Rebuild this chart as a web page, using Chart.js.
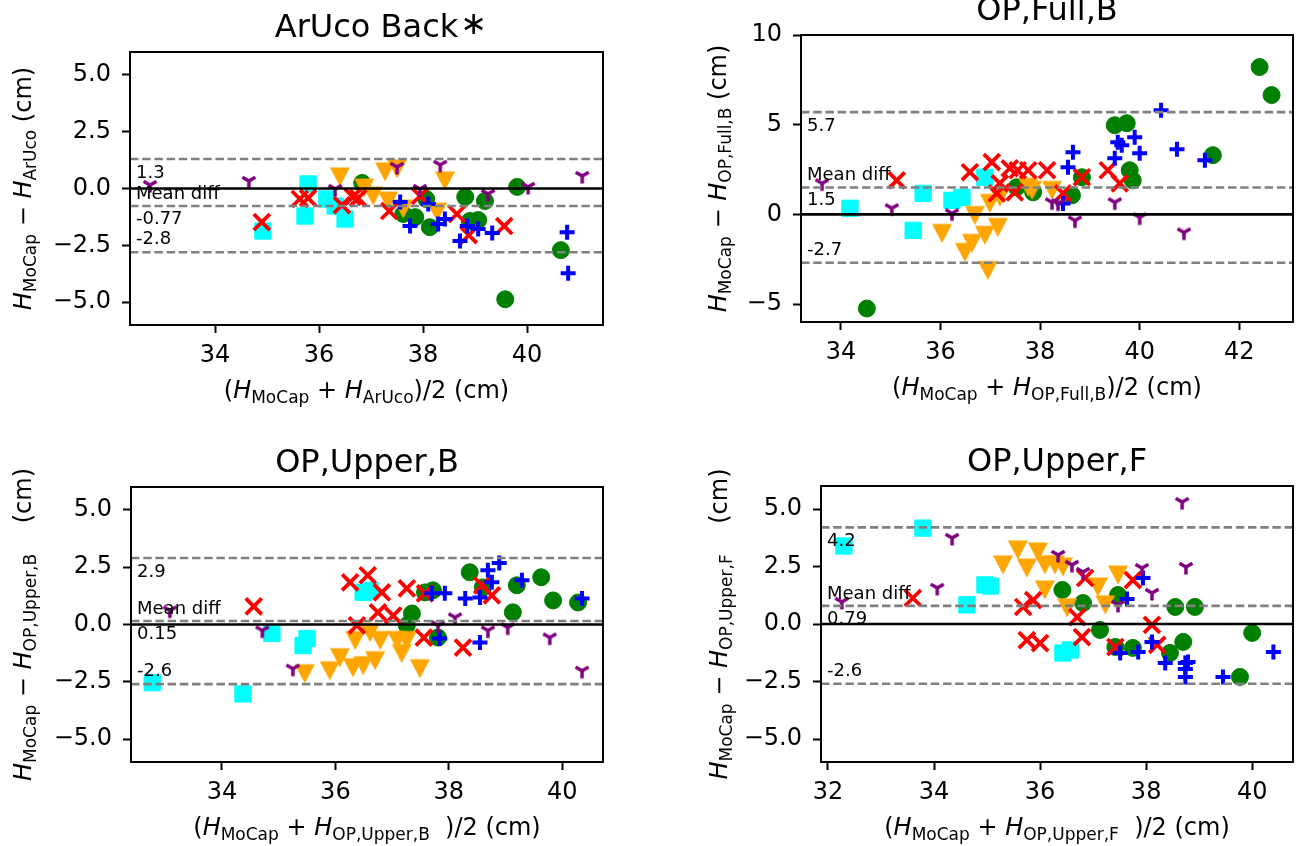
<!DOCTYPE html>
<html>
<head>
<meta charset="utf-8">
<script src="https://cdn.jsdelivr.net/npm/chart.js@4.4.1/dist/chart.umd.min.js"></script>
<style>
  html, body { margin: 0; padding: 0; background: #fff; }
  #wrap { position: relative; width: 1296px; height: 846px; overflow: hidden; }
  #wrap canvas { position: absolute; }
</style>
</head>
<body>
<div id="wrap">
  <canvas id="c1" width="648" height="423" style="left:0;top:0;width:648px;height:423px"></canvas>
  <canvas id="c2" width="690" height="423" style="left:648px;top:0;width:690px;height:423px"></canvas>
  <canvas id="c3" width="648" height="423" style="left:0;top:423px;width:648px;height:423px"></canvas>
  <canvas id="c4" width="690" height="423" style="left:648px;top:423px;width:690px;height:423px"></canvas>
</div>
<script>
// Datos: [media, diferencia] por participante (color)

// ArUco Back*
const arucoPurple = [[32.75,0.15],[34.65,0.33],[36.31,-0.02],[37.50,0.95],[38.33,1.04],[37.94,-0.02],[39.25,-0.24],[40.02,0.07],[41.06,0.55]];
const arucoBlue = [[37.56,-0.59],[37.75,-1.65],[38.10,-0.68],[38.29,-1.56],[38.42,-1.34],[38.71,-2.31],[38.85,-1.65],[39.06,-1.78],[39.33,-1.96],[40.77,-1.92],[40.79,-3.72]];
const arucoRed = [[34.90,-1.48],[35.63,-0.46],[35.79,-0.42],[36.44,-0.73],[36.65,-0.37],[36.75,-0.42],[37.35,-0.99],[37.94,-0.33],[38.65,-1.12],[38.88,-2.05],[39.56,-1.65]];
const arucoOrange = [[36.40,0.51],[36.87,0.02],[37.27,0.73],[37.04,-0.33],[37.33,-0.55],[37.62,-0.90],[37.50,0.86],[38.27,-1.04],[38.42,0.33]];
const arucoGreen = [[36.83,0.24],[38.06,-0.46],[37.62,-1.12],[37.85,-1.26],[38.13,-1.70],[38.81,-0.37],[39.19,-0.55],[38.90,-1.43],[39.06,-1.39],[39.81,0.07],[40.65,-2.71],[39.58,-4.87]];
const arucoCyan = [[34.92,-1.87],[35.73,-1.21],[35.79,0.20],[36.15,-0.46],[36.31,-0.77],[36.50,-1.34]];

// OP,Full,B
const fullPurple = [[33.62,1.73],[35.02,0.34],[36.23,0.06],[38.24,0.67],[38.36,0.61],[38.70,-0.34],[39.50,0.67],[40.00,-0.17],[40.89,-1.01]];
const fullBlue = [[38.46,0.61],[38.56,2.63],[38.66,3.46],[39.50,3.13],[39.56,4.02],[39.64,3.85],[39.90,4.30],[40.00,3.41],[40.43,5.81],[40.75,3.63],[41.31,3.02]];
const fullRed = [[35.12,1.90],[36.59,2.35],[37.03,2.91],[37.19,1.73],[37.13,1.17],[37.39,2.57],[37.55,2.46],[37.49,1.23],[37.76,2.46],[38.14,2.46],[38.46,1.17],[38.84,2.07],[39.36,2.46],[39.60,1.73]];
const fullOrange = [[36.03,-1.06],[36.69,-0.06],[36.49,-2.12],[36.63,-1.62],[36.89,-1.17],[36.95,-3.13],[37.15,-0.73],[36.99,0.61],[37.19,0.95],[37.76,1.51],[37.84,1.34],[38.24,1.34]];
const fullGreen = [[34.52,-5.25],[37.53,1.51],[37.86,1.23],[38.64,1.06],[38.84,2.07],[39.50,4.97],[39.74,5.08],[39.80,2.46],[39.86,1.90],[41.47,3.30],[42.41,8.21],[42.65,6.65]];
const fullCyan = [[34.18,0.34],[35.45,-0.89],[35.65,1.17],[36.23,0.78],[36.43,0.95],[36.89,2.07]];

// OP,Upper,B
const upBPurple = [[33.08,0.61],[34.71,-0.26],[35.25,-1.93],[37.81,-0.04],[38.11,0.31],[38.69,-0.26],[39.04,-0.13],[39.78,-0.57],[40.35,-2.02]];
const upBBlue = [[37.70,1.36],[37.93,1.36],[37.84,-0.61],[38.29,1.14],[38.55,1.18],[38.69,2.37],[38.76,1.84],[38.89,2.68],[39.29,1.93],[38.55,-0.79],[40.35,1.14]];
const upBRed = [[34.56,0.79],[36.26,1.84],[36.57,2.15],[36.82,1.40],[36.38,-0.04],[36.75,0.53],[37.02,0.39],[37.26,1.58],[37.58,1.36],[37.56,-0.57],[38.25,-1.01],[38.59,1.71],[38.76,1.27]];
const upBOrange = [[35.46,-2.15],[35.90,-2.02],[36.08,-1.45],[36.35,-0.70],[36.31,-1.89],[36.61,-0.35],[36.79,-0.70],[36.49,-1.80],[36.70,-1.58],[37.09,-0.70],[37.26,-0.70],[37.17,-1.27],[37.49,-1.93]];
const upBGreen = [[37.58,1.40],[37.72,1.49],[37.35,0.48],[37.26,-0.04],[37.81,-0.57],[38.37,2.28],[38.60,1.62],[39.20,1.71],[39.13,0.53],[39.63,2.06],[39.84,1.05],[40.28,0.96]];
const upBCyan = [[32.77,-2.54],[34.37,-3.03],[34.88,-0.39],[35.43,-0.92],[35.50,-0.61],[36.61,1.49],[36.49,1.40]];

// OP,Upper,F
const upFPurple = [[32.26,0.96],[34.06,1.57],[34.34,3.74],[36.34,3.00],[36.60,2.57],[36.81,2.26],[37.47,0.83],[37.92,2.43],[38.11,1.35],[38.68,5.30],[38.75,2.48]];
const upFBlue = [[37.64,1.09],[37.94,2.00],[37.51,-1.26],[37.85,-1.22],[38.11,-0.78],[38.36,-1.70],[38.74,-1.70],[38.79,-1.65],[38.74,-1.96],[38.74,-2.30],[39.45,-2.30],[40.40,-1.22]];
const upFRed = [[33.60,1.13],[35.68,0.74],[35.75,-0.70],[35.87,1.04],[36.00,-0.83],[36.85,2.00],[36.70,0.30],[36.79,-0.57],[37.42,-1.00],[37.75,1.91],[38.11,-0.04],[38.21,-0.91]];
const upFOrange = [[35.30,2.57],[35.58,3.22],[35.75,2.43],[35.96,3.13],[36.09,2.57],[36.28,2.57],[36.43,2.48],[36.09,1.48],[36.51,0.70],[37.09,1.61],[37.23,0.83],[37.47,2.13]];
const upFGreen = [[36.42,1.48],[36.81,0.91],[37.13,-0.26],[37.47,1.26],[37.42,-1.00],[37.75,-1.04],[38.45,-1.26],[38.55,0.74],[38.70,-0.78],[38.92,0.74],[39.77,-2.30],[40.00,-0.39]];
const upFCyan = [[32.30,3.39],[33.79,4.17],[34.62,0.83],[34.96,1.70],[35.06,1.65],[36.43,-1.26],[36.57,-1.13]];

// Limites de acuerdo y diferencia media
const meanDiff = [-0.77, 1.5, 0.15, 0.79];
const upperLoA = [1.3, 5.7, 2.9, 4.2];
const lowerLoA = [-2.8, -2.7, -2.6, -2.6];

// Ticks
const xTicks = [[34, 36, 38, 40], [34, 36, 38, 40, 42], [34, 36, 38, 40], [32, 34, 36, 38, 40]];
const yTicks = [[-5, -2.5, 0, 2.5, 5], [-5, 0, 5, 10], [-5, -2.5, 0, 2.5, 5], [-5, -2.5, 0, 2.5, 5]];

// Titulos
const titles = ["ArUco Back", "OP,Full,B", "OP,Upper,B", "OP,Upper,F"];
const titleStars = ["\u2217", "", "", ""];
const ySubs = ["ArUco", "OP,Full,B", "OP,Upper,B", "OP,Upper,F"];

// Disposicion de cada panel (area del grafico en el canvas)
const panels = [
    { id: "c1", area: [130, 52, 603, 325], xlim: [32.365, 41.46], ylim: [-6, 6], yTitleX: 31, yGap: " (cm)", xGap: ")/2 (cm)" },
    { id: "c2", area: [153, 35, 645, 322], xlim: [33.197, 43.08], ylim: [-6, 10], yTitleX: 78, yGap: " (cm)", xGap: ")/2 (cm)" },
    { id: "c3", area: [131, 64, 603, 339], xlim: [32.395, 40.72], ylim: [-6, 6], yTitleX: 31, yGap: "    (cm)", xGap: "  )/2 (cm)" },
    { id: "c4", area: [173, 63, 645, 339], xlim: [31.868, 40.77], ylim: [-6, 6], yTitleX: 79, yGap: "    (cm)", xGap: "  )/2 (cm)" }
];

const seriesByPanel = [
    [arucoPurple, arucoBlue, arucoRed, arucoOrange, arucoGreen, arucoCyan],
    [fullPurple, fullBlue, fullRed, fullOrange, fullGreen, fullCyan],
    [upBPurple, upBBlue, upBRed, upBOrange, upBGreen, upBCyan],
    [upFPurple, upFBlue, upFRed, upFOrange, upFGreen, upFCyan]
];

// Marcadores personalizados
function makeTriDown() {
    const c = document.createElement("canvas");
    c.width = 22; c.height = 22;
    const g = c.getContext("2d");
    g.fillStyle = "#FFA500";
    g.beginPath();
    g.moveTo(1, 1.5); g.lineTo(21, 1.5); g.lineTo(11, 20.5); g.closePath();
    g.fill();
    return c;
}
function makeTriY() {
    const r = 7.5, s = 22, m = s / 2;
    const c = document.createElement("canvas");
    c.width = s; c.height = s;
    const g = c.getContext("2d");
    g.strokeStyle = "#800080";
    g.lineWidth = 3.5;
    g.beginPath();
    g.moveTo(m, m); g.lineTo(m, m + r);
    g.moveTo(m, m); g.lineTo(m - 0.866 * r, m - 0.5 * r);
    g.moveTo(m, m); g.lineTo(m + 0.866 * r, m - 0.5 * r);
    g.stroke();
    return c;
}
const triDown = makeTriDown();
const triY = makeTriY();

const markers = [
    { color: "#800080", style: triY, radius: 7, bw: 0 },
    { color: "#0000FF", style: "cross", radius: 7.5, bw: 4 },
    { color: "#FF0000", style: "crossRot", radius: 11.3, bw: 3.8 },
    { color: "#FFA500", style: triDown, radius: 10, bw: 0 },
    { color: "#008000", style: "circle", radius: 8.5, bw: 1 },
    { color: "#00FFFF", style: "rect", radius: 11.5, bw: 1 }
];

const FONT = "DejaVu Sans";
Chart.defaults.font.family = FONT;
Chart.defaults.color = "#000";

// Texto con subindices
function drawRich(ctx, parts, x, y, rotate) {
    const fonts = { n: `24px "${FONT}"`, i: `italic 24px "${FONT}"`, s: `17px "${FONT}"` };
    const widths = parts.map(([t, k]) => { ctx.font = fonts[k]; return ctx.measureText(t).width; });
    const total = widths.reduce((a, b) => a + b, 0);
    ctx.save();
    ctx.translate(x, y);
    if (rotate) ctx.rotate(-Math.PI / 2);
    ctx.fillStyle = "#000";
    ctx.textAlign = "left";
    ctx.textBaseline = "alphabetic";
    let cx = -total / 2;
    parts.forEach(([t, k], i) => {
        ctx.font = fonts[k];
        ctx.fillText(t, cx, k === "s" ? 5 : 0);
        cx += widths[i];
    });
    ctx.restore();
}

const decoPlugin = {
    id: "deco",
    afterDatasetsDraw(chart, args, o) {
        const { ctx, chartArea: a, scales: { x, y } } = chart;
        ctx.save();
        ctx.beginPath();
        ctx.rect(a.left, a.top, a.right - a.left, a.bottom - a.top);
        ctx.clip();
        const hline = (v, color, lw, dash) => {
            const py = y.getPixelForValue(v);
            ctx.beginPath();
            ctx.setLineDash(dash);
            ctx.strokeStyle = color;
            ctx.lineWidth = lw;
            ctx.moveTo(a.left, py);
            ctx.lineTo(a.right, py);
            ctx.stroke();
        };
        [o.upper, o.mean, o.lower].forEach(v => hline(v, "#808080", 2.6, [8.5, 3.7]));
        hline(0, "#000", 2.6, []);
        ctx.setLineDash([]);

        ctx.fillStyle = "#000";
        ctx.font = `18px "${FONT}"`;
        ctx.textAlign = "left";
        ctx.textBaseline = "alphabetic";
        const tx = a.left + 6;
        const fmt = v => v.toPrecision(2);
        ctx.fillText(fmt(o.upper), tx, y.getPixelForValue(o.upper) + 19);
        ctx.fillText("Mean diff", tx, y.getPixelForValue(o.mean) - 7);
        ctx.fillText(fmt(o.mean), tx, y.getPixelForValue(o.mean) + 18);
        ctx.fillText(fmt(o.lower), tx, y.getPixelForValue(o.lower) - 8);
        ctx.restore();
    },
    afterDraw(chart, args, o) {
        const { ctx, chartArea: a } = chart;
        ctx.save();
        // marco completo
        ctx.strokeStyle = "#000";
        ctx.lineWidth = 2;
        ctx.strokeRect(a.left, a.top, a.right - a.left, a.bottom - a.top);

        // titulo
        const cx = (a.left + a.right) / 2;
        ctx.fillStyle = "#000";
        ctx.font = `32px "${FONT}"`;
        ctx.textAlign = "center";
        ctx.textBaseline = "alphabetic";
        ctx.fillText(o.title, cx, a.top - 15);
        if (o.star) {
            const w = ctx.measureText(o.title).width;
            ctx.textAlign = "left";
            ctx.fillText(o.star, cx + w / 2 + 2, a.top - 18);
        }
        ctx.restore();

        // titulos de ejes
        drawRich(ctx, [["(", "n"], ["H", "i"], ["MoCap", "s"], [" + ", "n"], ["H", "i"], [o.sub, "s"], [o.xGap, "n"]],
            cx, a.bottom + 73, false);
        drawRich(ctx, [["H", "i"], ["MoCap", "s"], [" \u2212 ", "n"], ["H", "i"], [o.sub, "s"], [o.yGap, "n"]],
            o.yTitleX, (a.top + a.bottom) / 2, true);
    }
};

function noPad(s) {
    s.paddingLeft = 0; s.paddingRight = 0; s.paddingTop = 0; s.paddingBottom = 0;
}

function makeChart(i) {
    const p = panels[i];
    const [L, T, R, B] = p.area;
    const canvas = document.getElementById(p.id);
    const W = canvas.width, H = canvas.height;

    const datasets = seriesByPanel[i].map((arr, k) => ({
        data: arr.map(([x, y]) => ({ x, y })),
        pointStyle: markers[k].style,
        pointRadius: markers[k].radius,
        pointBorderWidth: markers[k].bw,
        pointBackgroundColor: markers[k].color,
        pointBorderColor: markers[k].color,
        backgroundColor: markers[k].color,
        borderColor: markers[k].color,
        showLine: false
    }));

    const fmtY = v => {
        const s = i === 1 ? Math.abs(v).toFixed(0) : Math.abs(v).toFixed(1);
        return (v < 0 ? "\u2212" : "") + s;
    };

    new Chart(canvas, {
        type: "scatter",
        data: { datasets },
        plugins: [decoPlugin],
        options: {
            responsive: false,
            animation: false,
            devicePixelRatio: 1,
            events: [],
            layout: { padding: { left: 0, top: T, right: W - R, bottom: 0 } },
            plugins: {
                legend: { display: false },
                tooltip: { enabled: false },
                deco: {
                    title: titles[i], star: titleStars[i], sub: ySubs[i],
                    mean: meanDiff[i], upper: upperLoA[i], lower: lowerLoA[i],
                    yTitleX: p.yTitleX, yGap: p.yGap, xGap: p.xGap
                }
            },
            scales: {
                x: {
                    type: "linear",
                    min: p.xlim[0], max: p.xlim[1],
                    bounds: "data",
                    afterBuildTicks: s => { s.ticks = xTicks[i].map(v => ({ value: v })); },
                    afterFit: s => { s.height = H - B; noPad(s); },
                    grid: { drawOnChartArea: false, drawTicks: true, tickLength: 8, tickWidth: 2, tickColor: "#000" },
                    border: { display: true, color: "#000", width: 2 },
                    ticks: {
                        autoSkip: false, maxRotation: 0, padding: 8,
                        font: { size: 24, family: FONT }, color: "#000",
                        callback: v => String(v)
                    }
                },
                y: {
                    type: "linear",
                    min: p.ylim[0], max: p.ylim[1],
                    bounds: "data",
                    afterBuildTicks: s => { s.ticks = yTicks[i].map(v => ({ value: v })); },
                    afterFit: s => { s.width = L; noPad(s); },
                    grid: { drawOnChartArea: false, drawTicks: true, tickLength: 8, tickWidth: 2, tickColor: "#000" },
                    border: { display: true, color: "#000", width: 2 },
                    ticks: {
                        autoSkip: false, padding: 11,
                        font: { size: 24, family: FONT }, color: "#000",
                        callback: v => fmtY(v)
                    }
                }
            }
        }
    });
}

window.onload = () => {
    [0, 1, 2, 3].forEach(makeChart);
};
</script>
</body>
</html>
